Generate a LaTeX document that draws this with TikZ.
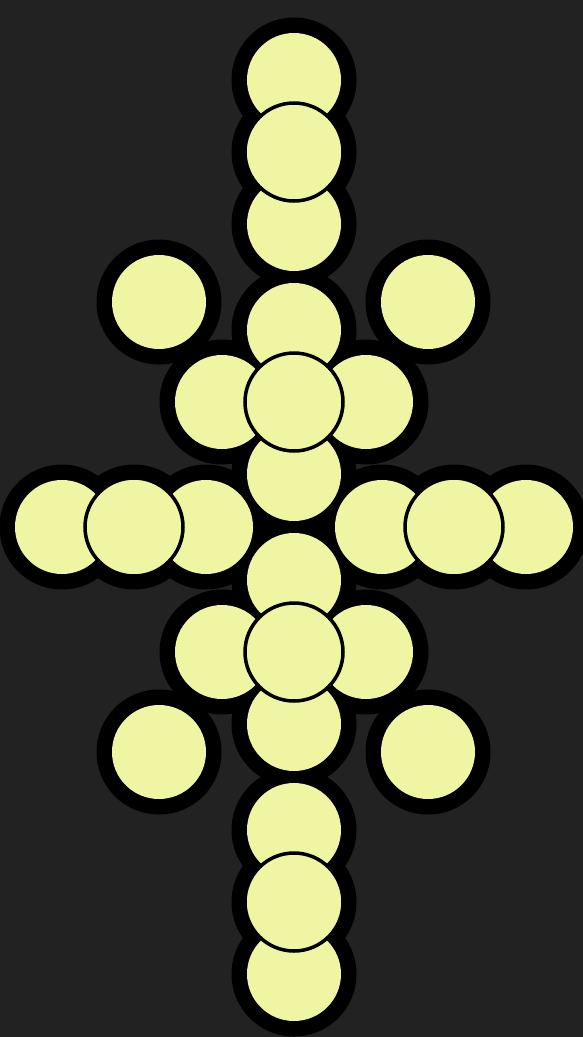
\documentclass[tikz,border=0pt]{standalone}
\usepackage{tikz}
\usepackage{xcolor}
\definecolor{bgdark}{RGB}{34, 34, 34}
\definecolor{dotyellow}{RGB}{239, 245, 163}

\begin{document}
\begin{tikzpicture}[
  x=1pt, y=-1pt,
  halo/.style={circle, fill=black, inner sep=0pt, minimum size=125pt},
  dot/.style={circle, fill=dotyellow, inner sep=0pt, minimum size=94pt},
  front/.style={dot, draw=black, line width=3.5pt, minimum size=98pt},
]
  \useasboundingbox (0,0) rectangle (583,1037);
  \fill[bgdark] (0,0) rectangle (583,1037);

  % halos behind everything
  \foreach \x/\y [count=\i] in {294/80, 294/152, 294/224, 294/330, 294/402, 294/474,
      222/402, 366/402, 62/527, 134/527, 206/527, 382/527, 454/527, 526/527,
      294/580, 294/652, 294/724, 222/652, 366/652, 294/830, 294/902, 294/974,
      159/302, 428/302, 159/752, 428/752}
    \node[halo] (h\i) at (\x,\y) {};

  % back dots
  \foreach \x/\y [count=\i] in {294/80, 294/224, 294/330, 294/474, 222/402, 366/402,
      62/527, 206/527, 382/527, 526/527, 294/580, 294/724, 222/652, 366/652,
      294/830, 294/974, 159/302, 428/302, 159/752, 428/752}
    \node[dot] (d\i) at (\x,\y) {};

  % front dots
  \foreach \x/\y [count=\i] in {294/152, 294/402, 134/527, 454/527, 294/652, 294/902}
    \node[front] (f\i) at (\x,\y) {};
\end{tikzpicture}
\end{document}
